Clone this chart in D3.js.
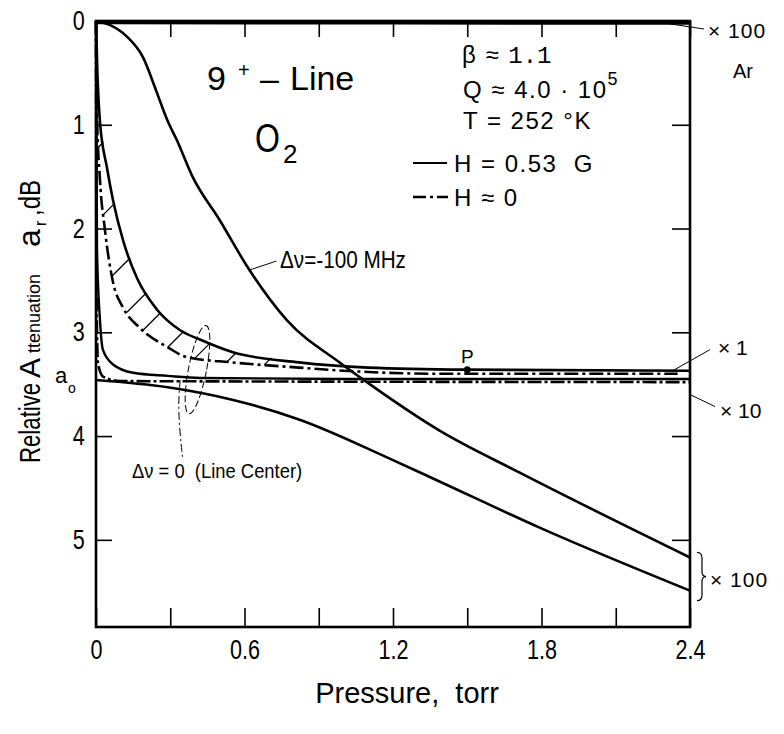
<!DOCTYPE html>
<html>
<head>
<meta charset="utf-8">
<script src="https://cdnjs.cloudflare.com/ajax/libs/d3/7.8.5/d3.min.js"></script>
<style>
body { margin: 0; background: #fff; }
svg text { font-family: "Liberation Sans", Arial, sans-serif; fill: #000; white-space: pre; }
</style>
</head>
<body>
<div id="chart"></div>
<script>
// values: pressure (torr) vs relative attenuation (dB)
var pressureTicks = [0, 0.3, 0.6, 0.9, 1.2, 1.5, 1.8, 2.1, 2.4];
var pressureLabels = [0, 0.6, 1.2, 1.8, 2.4];
var attenTicks = [0, 1, 2, 3, 4, 5];
var attenLabels = [0, 1, 2, 3, 4, 5];

// Ar, x100 (runs along the top edge)
var arP = [0, 1.2, 2.4];
var arA = [0.015, 0.018, 0.02];

// delta nu = -100 MHz, x100
var shiftP = [0, 0.057, 0.125, 0.19, 0.246, 0.287, 0.327, 0.39, 0.50, 0.62, 0.77, 0.99, 1.1, 1.39, 1.71, 2.4];
var shiftA = [0, 0.04, 0.15, 0.35, 0.69, 0.95, 1.15, 1.50, 1.92, 2.40, 2.88, 3.30, 3.49, 3.95, 4.35, 5.17];

// line centre, H = 0.53 G, x1
var centerP = [0, 0.005, 0.016, 0.044, 0.069, 0.11, 0.166, 0.246, 0.34, 0.42, 0.55, 0.82, 1.1, 1.5, 2.4];
var centerA = [0, 0.45, 0.97, 1.41, 1.73, 2.12, 2.48, 2.78, 2.98, 3.07, 3.19, 3.29, 3.34, 3.36, 3.37];

// line centre, H ~ 0, x1
var center0P = [0, 0.004, 0.016, 0.036, 0.069, 0.109, 0.178, 0.287, 0.368, 0.55, 0.82, 1.0, 1.4, 2.35];
var center0A = [0, 0.9, 1.53, 2.01, 2.52, 2.76, 2.96, 3.14, 3.24, 3.29, 3.34, 3.37, 3.40, 3.40];

// x10 curves (solid / dash-dot)
var tenP = [0, 0.002, 0.004, 0.016, 0.028, 0.069, 0.15, 0.29, 0.42, 1.0, 2.4];
var tenA = [0, 1.0, 2.2, 2.88, 3.17, 3.31, 3.39, 3.42, 3.44, 3.45, 3.45];
var ten0P = [0, 0.002, 0.008, 0.03, 0.1, 2.4];
var ten0A = [0, 2.6, 3.3, 3.43, 3.47, 3.48];

// lower x100 curve
var lowP = [0, 0.29, 0.55, 0.82, 1.18, 1.39, 1.79, 2.4];
var lowA = [3.46, 3.53, 3.65, 3.84, 4.21, 4.44, 4.88, 5.49];

// hatching between H=0.53G and H~0 curves (start pressures on dash-dot curve)
var hatchP = [0.01, 0.03, 0.065, 0.125, 0.19, 0.29, 0.40, 0.53, 0.68];

var pointP = [1.5, 3.36];
var a0 = 3.46;

var width = 784, height = 734;

var svg = d3.select("#chart").append("svg")
    .attr("width", width)
    .attr("height", height);

var x = d3.scaleLinear().domain([0, 2.4]).range([96, 690]);
var y = d3.scaleLinear().domain([0, 5.84]).range([21, 627]);

var line = d3.line()
    .x(function(d) { return x(d[0]); })
    .y(function(d) { return y(d[1]); })
    .curve(d3.curveMonotoneX);

function curve(P, A, w, dash) {
    svg.append("path")
        .datum(d3.zip(P, A))
        .attr("fill", "none")
        .attr("stroke", "#000")
        .attr("stroke-width", w)
        .attr("stroke-dasharray", dash || null)
        .attr("d", line);
}

function label(px, py, txt, size, sx, anchor) {
    return svg.append("text")
        .attr("transform", "translate(" + px + "," + py + ") scale(" + (sx || 1) + ",1)")
        .attr("text-anchor", anchor || "start")
        .style("font-size", size + "px")
        .text(txt);
}

function seg(x1, y1, x2, y2, w, dash) {
    svg.append("line")
        .attr("x1", x1).attr("y1", y1).attr("x2", x2).attr("y2", y2)
        .attr("stroke", "#000")
        .attr("stroke-width", w)
        .attr("stroke-dasharray", dash || null);
}

// curves
curve(shiftP, shiftA, 2.6);
curve(centerP, centerA, 2.6);
curve(center0P, center0A, 2.6, "14,4,3,4");
curve(tenP, tenA, 2.4);
curve(ten0P, ten0A, 2.6, "14,3,3,3");
curve(lowP, lowA, 2.6);
curve(arP, arA, 3.5);

// hatching: 45 degree strokes from the dash-dot curve up to the solid one
var solidPts = d3.zip(centerP, centerA).map(function(d) { return [x(d[0]), y(d[1])]; });
function solidYAt(px) {
    for (var i = 1; i < solidPts.length; i++) {
        if (solidPts[i][0] >= px) {
            var a = solidPts[i - 1], b = solidPts[i];
            var t = (px - a[0]) / (b[0] - a[0] || 1);
            return a[1] + t * (b[1] - a[1]);
        }
    }
    return solidPts[solidPts.length - 1][1];
}
var dashInterp = function(p) {
    var i = d3.bisectLeft(center0P, p);
    var t = (p - center0P[i - 1]) / (center0P[i] - center0P[i - 1]);
    return center0A[i - 1] + t * (center0A[i] - center0A[i - 1]);
};
hatchP.forEach(function(p) {
    var sx = x(p), sy = y(dashInterp(p));
    var t = 0;
    while (t < 40 && sy - t > solidYAt(sx + t)) t += 0.5;
    seg(sx, sy, sx + t, sy - t, 1.3);
});

// frame and ticks
svg.append("rect")
    .attr("x", x(0)).attr("y", y(0))
    .attr("width", x(2.4) - x(0)).attr("height", y(5.84) - y(0))
    .attr("fill", "none").attr("stroke", "#000").attr("stroke-width", 2.6);

var xb = svg.append("g").attr("transform", "translate(0," + y(5.84) + ")")
    .call(d3.axisBottom(x).tickValues(pressureTicks).tickSizeInner(-19).tickSizeOuter(0).tickPadding(13)
        .tickFormat(function(d) { return pressureLabels.indexOf(d) >= 0 ? String(d) : ""; }));
var xt = svg.append("g").attr("transform", "translate(0," + y(0) + ")")
    .call(d3.axisTop(x).tickValues(pressureTicks).tickSizeInner(-16).tickSizeOuter(0).tickFormat(""));
var yl = svg.append("g").attr("transform", "translate(" + x(0) + ",0)")
    .call(d3.axisLeft(y).tickValues(attenTicks).tickSizeInner(-16).tickSizeOuter(0).tickPadding(14)
        .tickFormat(function(d) { return attenLabels.indexOf(d) >= 0 ? String(d) : ""; }));
var yr = svg.append("g").attr("transform", "translate(" + x(2.4) + ",0)")
    .call(d3.axisRight(y).tickValues(attenTicks.slice(1)).tickSizeInner(-18).tickSizeOuter(0).tickFormat(""));

[xb, xt, yl, yr].forEach(function(g) {
    g.select(".domain").remove();
    g.selectAll(".tick line").attr("stroke", "#000").attr("stroke-width", 1.6);
    g.selectAll(".tick text")
        .attr("fill", "#000")
        .style("font-family", "'Liberation Sans', Arial, sans-serif")
        .style("font-size", "27px")
        .attr("transform", "scale(0.8,1)");
});

// axis titles
label(407, 703, "Pressure,  torr", 29, 1, "middle");

function vlabel(px, py, txt, size, sx) {
    svg.append("text")
        .attr("transform", "translate(" + px + "," + py + ") rotate(-90) scale(" + (sx || 1) + ",1)")
        .style("font-size", size + "px")
        .text(txt);
}
vlabel(40, 463, "Relative", 30, 0.74);
vlabel(40, 378, "A", 30, 1);
vlabel(40, 353, "ttenuation", 18, 1);
vlabel(40, 247, "a", 32, 1);
vlabel(46, 226, "r", 16, 1);
vlabel(40, 216, ",dB", 30, 0.8);

// a0 marker
label(55, y(a0) + 3, "a", 22, 1);
label(68, y(a0) + 13, "o", 14, 1);

// titles inside the plot
label(207, 90, "9", 34, 1);
label(238, 77, "+", 20, 1);
label(260, 90, "\u2013", 34, 1);
label(290, 90, "Line", 34, 1);
label(255, 152, "O", 40, 0.8);
label(283, 163, "2", 26, 1);

// legend block
var leg = label(462, 63, "\u03b2 \u2248 ", 24, 1).style("letter-spacing", "1.5px");
leg.append("tspan").style("font-family", "'Liberation Mono', monospace").style("letter-spacing", "0px").text("1.1");
var q = label(463, 98, "Q \u2248 4.0 \u00b7 10", 24, 1).style("letter-spacing", "1.5px");
q.append("tspan").attr("dy", -13).style("font-size", "18px").text("5");
label(463, 129, "T = 252 \u00b0K", 24, 1).style("letter-spacing", "1.5px");
seg(413, 163, 447, 163, 2.2);
label(454, 172, "H = 0.53  G", 24, 1).style("letter-spacing", "1.5px");
seg(413, 197, 448, 197, 2.4, "13,4,3,4");
label(454, 206, "H \u2248 0", 24, 1).style("letter-spacing", "1.5px");

// curve annotations
seg(x(2.4) + 14, y(0) + 8, x(2.27), y(0.01), 1);
label(708, 38, "\u00d7 100", 21, 1).style("letter-spacing", "1px");
label(733, 78, "Ar", 20, 1);

seg(x(2.4) + 20, y(3.36) - 20, x(2.33), y(3.37), 1);
label(718, 355, "\u00d7 1", 21, 1);
seg(x(2.4) + 25, y(3.6) + 12, x(2.4), y(3.6), 1);
label(720, 418, "\u00d7 10", 21, 1);

var bt = y(5.16) - 4, bb = y(5.49) + 10, bm = (bt + bb) / 2;
svg.append("path")
    .attr("d", "M697," + bt + " q5,0 5,6 V" + (bm - 5) + " q0,5 4,5 q-4,0 -4,5 V" + (bb - 6) + " q0,6 -5,6")
    .attr("fill", "none").attr("stroke", "#000").attr("stroke-width", 1.2);
label(710, 587, "\u00d7 100", 21, 1).style("letter-spacing", "1px");

seg(x(0.62) + 27, y(2.40) - 9, x(0.62), y(2.40), 1);
label(280, 268, "\u0394\u03bd=-100 MHz", 23, 0.9);

svg.append("circle")
    .attr("cx", x(pointP[0])).attr("cy", y(pointP[1])).attr("r", 3.5).attr("fill", "#000");
label(x(pointP[0]), y(pointP[1]) - 7, "P", 19, 1, "middle");

// line centre ellipse and leader
svg.append("ellipse")
    .attr("transform", "translate(" + x(0.41) + "," + y(3.36) + ") rotate(11)")
    .attr("rx", 9).attr("ry", 45)
    .attr("fill", "none").attr("stroke", "#000").attr("stroke-width", 1)
    .attr("stroke-dasharray", "7,3");
svg.append("path")
    .datum([[0.34, 3.46], [0.33, 3.75], [0.35, 4.22]])
    .attr("fill", "none").attr("stroke", "#000").attr("stroke-width", 1)
    .attr("stroke-dasharray", "8,3,2,3")
    .attr("d", d3.line().x(function(d) { return x(d[0]); }).y(function(d) { return y(d[1]); }).curve(d3.curveBasis));
label(132, 478, "\u0394\u03bd = 0  (Line Center)", 20, 0.92);
</script>
</body>
</html>
